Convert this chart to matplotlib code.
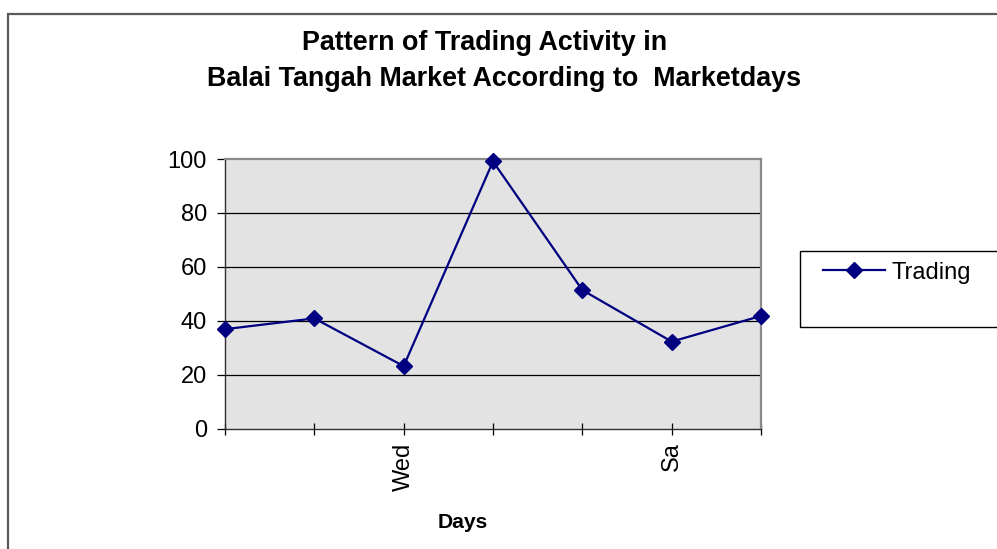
import matplotlib
matplotlib.use("Agg")
import matplotlib.pyplot as plt
from matplotlib.patches import Rectangle

# ---- data ----
days = ["", "", "Wed", "", "", "Sa", ""]
trading = [36.9, 40.9, 23.2, 99.1, 51.4, 32.3, 41.8]
yticks = [0, 20, 40, 60, 80, 100]
series_name = "Trading"
title_line1 = "Pattern of Trading Activity in"
title_line2 = "Balai Tangah Market According to  Marketdays"
xlabel = "Days"

W, H = 997, 549
DPI = 100
plt.rcParams['font.family'] = ['Liberation Sans', 'DejaVu Sans']

fig = plt.figure(figsize=(W / DPI, H / DPI), dpi=DPI)

def fx(px):
    return px / W

def fy(py):
    return 1 - py / H

# outer chart border (extends past right/bottom edges)
fig.patches.append(Rectangle((fx(8), fy(1000)), fx(1200), (1000 - 13.5) / H,
                             transform=fig.transFigure, fill=False,
                             edgecolor='#5a5a5a', linewidth=1.6, clip_on=False))

left, right, top, bottom = 225, 761, 159, 428.7
ax = fig.add_axes([fx(left), fy(bottom), (right - left) / W, (bottom - top) / H])
ax.set_facecolor('#e3e3e3')

x = list(range(len(days)))
ax.plot(x, trading, color='#000080', linewidth=1.6, marker='D', markersize=8,
        markerfacecolor='#000080', markeredgecolor='#000080', clip_on=False,
        zorder=5, label=series_name)

ax.set_xlim(0, len(days) - 1)
ax.set_ylim(0, 100)
ax.set_yticks(yticks)
ax.set_yticklabels([str(v) for v in yticks], fontsize=17)
ax.set_xticks(x)
ax.set_xticklabels(days, rotation=90, fontsize=17)

for v in yticks[1:-1]:
    ax.axhline(v, color='black', linewidth=0.9, zorder=1)

ax.tick_params(axis='y', direction='out', length=5.5, width=0.9, pad=7.5, colors='black')
ax.tick_params(axis='x', direction='inout', length=9, width=0.9, pad=5.5, colors='black')

ax.spines['left'].set_color('#303030')
ax.spines['bottom'].set_color('#303030')
ax.spines['left'].set_linewidth(1.0)
ax.spines['bottom'].set_linewidth(1.0)
ax.spines['top'].set_color('#8a8a8a')
ax.spines['right'].set_color('#8a8a8a')
ax.spines['top'].set_linewidth(1.6)
ax.spines['right'].set_linewidth(1.6)

# titles
fig.text(fx(301.5), fy(50), title_line1, ha='left', va='baseline',
         fontsize=19.4, fontweight='bold')
fig.text(fx(206.5), fy(85.5), title_line2, ha='left', va='baseline',
         fontsize=19.4, fontweight='bold')

fig.text(fx(463), fy(522), xlabel, ha='center', va='center',
         fontsize=15.2, fontweight='bold')

# legend box
fig.patches.append(Rectangle((fx(800), fy(327)), fx(300), (327 - 251) / H,
                             transform=fig.transFigure, fill=False,
                             edgecolor='black', linewidth=1.0, clip_on=False))
leg = fig.legend(loc='center left', bbox_to_anchor=(fx(822.7), fy(272.7)),
                 frameon=False, fontsize=17, borderpad=0, borderaxespad=0,
                 handlelength=2.63, handletextpad=0.28, numpoints=1)

fig.savefig('out.png', dpi=DPI)
